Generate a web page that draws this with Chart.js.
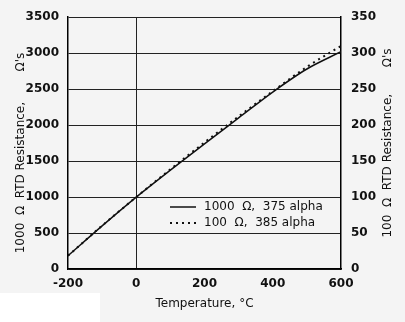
<!DOCTYPE html>
<html>
<head>
<meta charset="utf-8">
<script src="https://cdn.jsdelivr.net/npm/chart.js@4.4.0/dist/chart.umd.min.js"></script>
<style>
  html, body { margin: 0; padding: 0; background: #f4f4f4; }
  #wrap { position: relative; width: 405px; height: 322px; }
  #patch { position: absolute; left: 0; top: 293px; width: 100px; height: 29px; background: #fff; }
</style>
</head>
<body>
<div id="wrap">
  <canvas id="rtd" width="405" height="322"></canvas>
  <div id="patch"></div>
</div>
<script>
// temperature points, deg C
var temps = [-200, -100, 0, 100, 200, 300, 400, 500, 600];
// 1000 ohm element, 0.00375 alpha (left axis, ohms)
var pt1000 = [185, 600, 1000, 1375, 1740, 2100, 2460, 2780, 3020];
// 100 ohm element, 0.00385 alpha (right axis, ohms)
var pt100 = [18.5, 60.3, 100, 138.5, 175.9, 212.1, 247.1, 280.9, 310];

var xTicks = [-200, 0, 200, 400, 600];
var leftTicks = [0, 500, 1000, 1500, 2000, 2500, 3000, 3500];
var rightTicks = [0, 50, 100, 150, 200, 250, 300, 350];

var labels = ["1000  \u03A9,  375 alpha", "100  \u03A9,  385 alpha"];
var leftTitle = "1000  \u03A9  RTD Resistance,        \u03A9's";
var rightTitle = "100  \u03A9  RTD Resistance,       \u03A9's";

function pts(ys) {
    return temps.map(function (t, i) { return { x: t, y: ys[i] }; });
}

function plain(v) { return String(v); }

var tickFont = { family: "DejaVu Sans", size: 12, weight: "bold" };

// y titles both read bottom-to-top, and the key sits inside the plot
var extras = {
    id: "extras",
    afterDraw: function (chart) {
        var ctx = chart.ctx;
        ctx.save();
        ctx.fillStyle = "#111";
        ctx.font = "12px 'DejaVu Sans'";
        ctx.textAlign = "center";
        ctx.textBaseline = "middle";
        [[21, 153, leftTitle], [388, 143, rightTitle]].forEach(function (t) {
            ctx.save();
            ctx.translate(t[0], t[1]);
            ctx.rotate(-Math.PI / 2);
            ctx.fillText(t[2], 0, 0);
            ctx.restore();
        });

        // key
        ctx.textAlign = "left";
        var kx = 170, ky = 207;
        chart.data.datasets.forEach(function (ds, i) {
            var y = ky + i * 16;
            ctx.beginPath();
            ctx.strokeStyle = "#111";
            ctx.lineWidth = ds.borderWidth;
            ctx.setLineDash(ds.borderDash || []);
            ctx.moveTo(kx, y);
            ctx.lineTo(kx + 26, y);
            ctx.stroke();
            ctx.setLineDash([]);
            ctx.fillText(ds.label, kx + 34, y);
        });
        ctx.restore();
    }
};

new Chart(document.getElementById("rtd").getContext("2d"), {
    type: "line",
    data: {
        datasets: [
            {
                label: labels[0],
                data: pts(pt1000),
                yAxisID: "y",
                borderColor: "#111",
                borderWidth: 1.5,
                pointRadius: 0,
                cubicInterpolationMode: "monotone"
            },
            {
                label: labels[1],
                data: pts(pt100),
                yAxisID: "y2",
                borderColor: "#111",
                borderWidth: 2,
                borderDash: [2, 4],
                pointRadius: 0,
                cubicInterpolationMode: "monotone"
            }
        ]
    },
    options: {
        responsive: false,
        animation: false,
        layout: { padding: { top: 14, left: 0, right: 0, bottom: 0 } },
        plugins: { legend: { display: false }, tooltip: { enabled: false } },
        scales: {
            x: {
                type: "linear",
                min: -200,
                max: 600,
                afterBuildTicks: function (s) { s.ticks = xTicks.map(function (v) { return { value: v }; }); },
                afterFit: function (s) { s.height = 53; },
                grid: {
                    drawTicks: false,
                    color: function (c) { return c.tick.value === 0 ? "#222" : "rgba(0,0,0,0)"; },
                    lineWidth: 1
                },
                border: { color: "#000", width: 1.5 },
                ticks: { color: "#111", font: tickFont, padding: 8, callback: plain },
                title: {
                    display: true,
                    text: "Temperature, \u00B0C",
                    color: "#111",
                    font: { family: "DejaVu Sans", size: 12 },
                    padding: { top: 0, bottom: 11 }
                }
            },
            y: {
                position: "left",
                min: 0,
                max: 3500,
                afterBuildTicks: function (s) { s.ticks = leftTicks.map(function (v) { return { value: v }; }); },
                afterFit: function (s) { s.width = 68; },
                grid: { drawTicks: false, color: "#222", lineWidth: 1 },
                border: { color: "#000", width: 1.5 },
                ticks: { color: "#111", font: tickFont, padding: 9, callback: plain }
            },
            y2: {
                position: "right",
                min: 0,
                max: 350,
                afterBuildTicks: function (s) { s.ticks = rightTicks.map(function (v) { return { value: v }; }); },
                afterFit: function (s) { s.width = 64; },
                grid: { display: false, drawTicks: false },
                border: { color: "#000", width: 1.5 },
                ticks: { color: "#111", font: tickFont, padding: 10, callback: plain }
            }
        }
    },
    plugins: [extras]
});
</script>
</body>
</html>
